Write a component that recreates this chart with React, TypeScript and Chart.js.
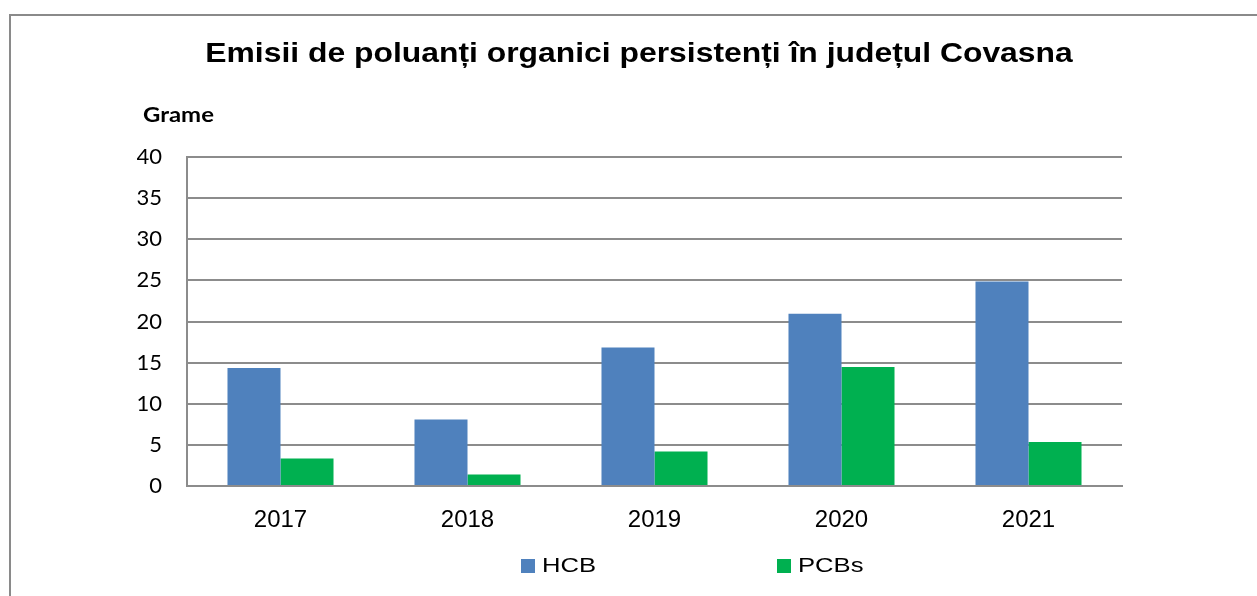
import React, { useEffect, useRef } from "react";
import { Chart, registerables } from "chart.js";

Chart.register(...registerables);

const categories = ["2017", "2018", "2019", "2020", "2021"];
const hcbValues = [14.35, 8.1, 16.85, 20.95, 24.85];
const pcbValues = [3.33, 1.39, 4.18, 14.47, 5.35];
const seriesNames = ["HCB", "PCBs"];
const seriesColors = ["#4F81BD", "#00B050"];
const titleText = "Emisii de poluanți organici persistenți în județul Covasna";
const yAxisTitle = "Grame";

const W = 1257;
const H = 596;

function stretchedText(ctx: any, text: string, x: number, y: number, sx: number) {
  ctx.save();
  ctx.translate(x, y);
  ctx.scale(sx, 1);
  ctx.fillText(text, 0, 0);
  ctx.restore();
}

const textPlugin = {
  id: "textPlugin",
  afterDraw(chart: any) {
    const ctx = chart.ctx;
    ctx.save();
    // Title
    ctx.fillStyle = "#000";
    ctx.font = "bold 27px 'Liberation Sans', Arial, sans-serif";
    ctx.textAlign = "center";
    ctx.textBaseline = "middle";
    stretchedText(ctx, titleText, 639, 55, 1.18);
    // Y axis title
    ctx.font = "bold 21px Lato, sans-serif";
    ctx.textAlign = "left";
    ctx.textBaseline = "alphabetic";
    stretchedText(ctx, yAxisTitle, 143, 122, 1.14);
    // Legend
    const items = chart.data.datasets.map((d: any, i: number) => ({
      label: d.label,
      color: d.backgroundColor,
      x: i === 0 ? 521 : 777,
    }));
    ctx.font = "21px 'Liberation Sans', Arial, sans-serif";
    ctx.textBaseline = "middle";
    for (const it of items) {
      ctx.fillStyle = it.color;
      ctx.fillRect(it.x, 559, 14, 14);
      ctx.fillStyle = "#000";
      stretchedText(ctx, it.label, it.x + 21, 566, 1.22);
    }
    ctx.restore();
  },
};

export default function App() {
  const ref = useRef<HTMLCanvasElement | null>(null);

  useEffect(() => {
    if (!ref.current) return;
    const chart = new Chart(ref.current, {
      type: "bar",
      data: {
        labels: categories,
        datasets: [
          {
            label: seriesNames[0],
            data: hcbValues,
            backgroundColor: seriesColors[0],
            categoryPercentage: 0.567,
            barPercentage: 1,
          },
          {
            label: seriesNames[1],
            data: pcbValues,
            backgroundColor: seriesColors[1],
            categoryPercentage: 0.567,
            barPercentage: 1,
          },
        ],
      },
      options: {
        responsive: false,
        animation: false,
        devicePixelRatio: 1,
        layout: { padding: { top: 157, left: 137, right: 135, bottom: 0 } },
        plugins: {
          legend: { display: false },
          title: { display: false },
          tooltip: { enabled: false },
        },
        scales: {
          x: {
            grid: { display: false, drawTicks: false },
            border: { display: true, color: "#8c8c8c", width: 2 },
            ticks: {
              color: "#000",
              padding: 20,
              font: { family: "'Liberation Sans', Arial, sans-serif", size: 24 },
            },
            afterFit: (scale: any) => {
              scale.height = 110;
            },
          },
          y: {
            min: 0,
            max: 40,
            ticks: {
              stepSize: 5,
              color: "#000",
              padding: 25,
              font: { family: "Lato, sans-serif", size: 22 },
            },
            grid: { color: "#8c8c8c", lineWidth: 2, drawTicks: false },
            border: { display: true, color: "#8c8c8c", width: 2 },
            afterFit: (scale: any) => {
              scale.width = 50;
            },
          },
        },
      },
      plugins: [textPlugin],
    });
    return () => chart.destroy();
  }, []);

  return (
    <div
      style={{
        position: "absolute",
        left: 0,
        top: 0,
        width: W,
        height: H,
        overflow: "hidden",
        background: "#fff",
      }}
    >
      <div
        style={{
          position: "absolute",
          left: 9,
          top: 14,
          width: W - 9,
          height: H - 14,
          boxSizing: "border-box",
          borderLeft: "2px solid #8a8a8a",
          borderTop: "2px solid #8a8a8a",
        }}
      />
      <canvas
        ref={ref}
        width={W}
        height={H}
        style={{ position: "absolute", left: 0, top: 0, display: "block" }}
      />
    </div>
  );
}
